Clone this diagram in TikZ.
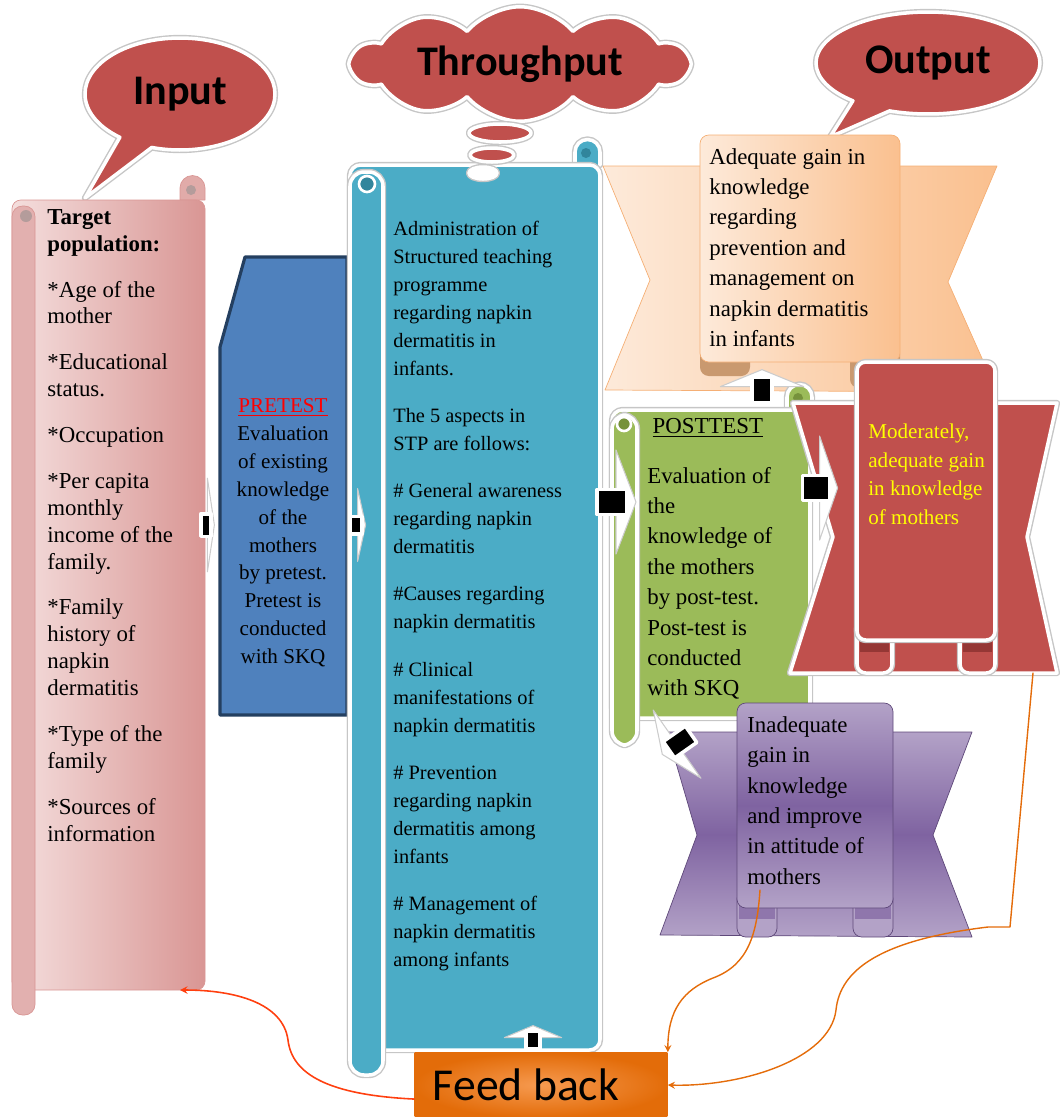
\documentclass[tikz,border=0pt]{standalone}
\usepackage{fontspec}
\setmainfont{Liberation Serif}
\newfontfamily\calib{Carlito}
\usetikzlibrary{shapes.callouts,shapes.symbols}
\definecolor{callred}{HTML}{C0504D}
\definecolor{pinkL}{HTML}{F4DEDD}
\definecolor{pinkD}{HTML}{D99694}
\definecolor{preblue}{HTML}{4F81BD}
\definecolor{navy}{HTML}{243F60}
\definecolor{stpteal}{HTML}{4BACC6}
\definecolor{stptealD}{HTML}{31859C}
\definecolor{peachL}{HTML}{FDEADA}
\definecolor{peachD}{HTML}{FAC08F}
\definecolor{peachE}{HTML}{F5AF75}
\definecolor{peachR}{HTML}{C9996F}
\definecolor{postgreen}{HTML}{9BBB59}
\definecolor{postgreenD}{HTML}{76923C}
\definecolor{redD}{HTML}{953735}
\definecolor{purL}{HTML}{B3A2C7}
\definecolor{purM}{HTML}{7F63A1}
\definecolor{purD}{HTML}{5F497A}
\definecolor{fbor}{HTML}{E36C09}
\definecolor{fborL}{HTML}{F69A50}
\definecolor{linkred}{HTML}{FF3F0F}
\definecolor{linkor}{HTML}{E46C0A}
\definecolor{moyel}{HTML}{FFFF00}
\begin{document}
\begin{tikzpicture}[x=0.02cm, y=-0.02cm, line join=round, line cap=round, >=stealth,
	rim/.style={preaction={draw=gray!45, line width=3.6pt}, draw=white, line width=2pt},
	title/.style={font=\calib\bfseries\fontsize{24}{28}\selectfont},
	callbox/.style={ellipse callout, fill=callred, rim, title, callout pointer arc=22},
	tx/.style={inner sep=0pt, align=left, anchor=north west},
	fbbox/.style={rectangle, inner color=fborL, outer color=fbor, minimum width=5.06cm, minimum height=1.3cm, font=\calib\fontsize{26}{30}\selectfont}]
			\pgfmathsetmacro{\rc}{12.5}
			\useasboundingbox (0,0) rectangle (1060,1117);
			\node[callbox, minimum width=3.8cm, minimum height=2.24cm, callout absolute pointer={(85,198)}] (in) at (180,94) {Input};
			\node[callbox, minimum width=4.48cm, minimum height=2.04cm, callout absolute pointer={(830,137)}] (out) at (928,63) {Output};
			\node[cloud, cloud puffs=10, cloud puff arc=100, aspect=5, fill=callred, rim, title, minimum width=6.7cm, minimum height=1.1cm] (tp) at (520,64) {Throughput};
			\draw[fill=pinkD!80, draw=pinkD] (180,200) -- (180,188) arc[start angle=180, end angle=360, radius=\rc] -- (205,200) -- cycle;
			\fill[pinkD!60!black!60] (191,190) circle (5);
			\draw[draw=pinkD, left color=pinkL, right color=pinkD, rounded corners=5pt] (12,200) rectangle (205,990);
			\draw[draw=pinkD, fill=pinkD!75, rounded corners=6pt] (12,206) rectangle (35,1015);
			\fill[pinkD!60!black!60] (26,216) circle (6);
			\draw[fill=preblue, draw=navy, line width=1.8pt] (245,257) -- (347,257) -- (347,715) -- (220,715) -- (220,347) -- cycle;
			\draw[rim, fill=stpteal] (575,165) -- (575,152) arc[start angle=180, end angle=360, radius=\rc] -- (600,165);
			\fill[stptealD] (586,153) circle (5);
			\draw[rim, fill=stpteal, rounded corners=6pt] (350,165) rectangle (600,1050);
			\draw[rim, fill=stpteal, rounded corners=8pt] (350,172) rectangle (383,1075);
			\draw[draw=white, line width=1.5pt, fill=stptealD] (367,184) circle (8);
			\foreach \x/\y/\rx/\ry/\c in {500/133/31/9/callred, 492/155/22/7/callred, 483/173/14/6/white}
				\draw[rim, fill=\c] (\x,\y) ellipse [x radius=\rx, y radius=\ry];
			\draw[draw=peachE, left color=peachL, right color=peachD] (603,166) -- (650,280) -- (605,390) -- (997,392) -- (948,282) -- (997,166) -- cycle;
			\fill[peachR, rounded corners=5pt] (700,345) rectangle (750,376);
			\fill[peachR, rounded corners=5pt] (850,345) rectangle (900,388);
			\draw[draw=peachE, left color=peachL, right color=peachD, rounded corners=5pt] (700,135) rectangle (900,362);
			\draw[rim, fill=postgreen] (787,410) -- (787,397) arc[start angle=180, end angle=360, radius=\rc] -- (812,410);
			\fill[postgreenD] (798,398) circle (5);
			\draw[rim, fill=postgreen, rounded corners=6pt] (612,410) rectangle (810,718);
			\draw[rim, fill=postgreen, rounded corners=8pt] (612,415) rectangle (637,745);
			\draw[draw=white, line width=1.5pt, fill=postgreenD] (624,424) circle (7);
			\draw[rim, fill=callred] (793,403) -- (833,537) -- (790,673) -- (1057,673) -- (1027,537) -- (1057,403) -- cycle;
			\foreach \x in {857,960}{
				\draw[rim, fill=callred, rounded corners=5pt] (\x,620) rectangle ++(35,53);
				\fill[redD] (\x+3,636) rectangle ++(29,16);
			}
			\draw[rim, fill=callred, rounded corners=5pt] (857,362) rectangle (995,640);
			\draw[draw=purD, top color=purL, bottom color=purL, middle color=purM] (667,732) -- (697,835) -- (660,935) -- (972,937) -- (933,835) -- (972,732) -- cycle;
			\foreach \x in {737,853}{
				\draw[draw=purD, fill=purL, rounded corners=5pt] (\x,890) rectangle ++(40,47);
				\fill[purM!70!purL] (\x+2,905) rectangle ++(36,14);
			}
			\draw[draw=purD, top color=purL, bottom color=purL, middle color=purM, rounded corners=5pt] (737,703) rectangle (893,908);
			\node[tx, font=\fontsize{13}{15.3}\selectfont] (tgt) at (47,209) {\textbf{Target}\\\textbf{population:}\\[10.8pt]
				*Age of the\\mother\\[10.8pt]*Educational\\status.\\[10.8pt]*Occupation\\[10.8pt]
				*Per capita\\monthly\\income of the\\family.\\[10.8pt]*Family\\history of\\napkin\\dermatitis\\[10.8pt]
				*Type of the\\family\\[10.8pt]*Sources of\\information};
			\node[inner sep=0pt, align=center, anchor=north, font=\fontsize{12}{15.9}\selectfont] (pre) at (283,398) {\textcolor{red}{\underline{PRETEST}}\\
				Evaluation\\of existing\\knowledge\\of the\\mothers\\by pretest.\\Pretest is\\conducted\\with SKQ};
			\node[tx, font=\fontsize{11.6}{15.9}\selectfont] (stp) at (393,221) {Administration of\\Structured teaching\\programme\\regarding napkin\\dermatitis in\\infants.\\[11pt]
				The 5 aspects in\\STP are follows:\\[11pt]
				\# General awareness\\regarding napkin\\dermatitis\\[11pt]
				\#Causes regarding\\napkin dermatitis\\[11pt]
				\# Clinical\\manifestations of\\napkin dermatitis\\[11pt]
				\# Prevention\\regarding napkin\\dermatitis among\\infants\\[11pt]
				\# Management of\\napkin dermatitis\\among infants};
			\node[tx, font=\fontsize{13}{17.3}\selectfont] (adq) at (709,148) {Adequate gain in\\knowledge\\regarding\\prevention and\\management on\\napkin dermatitis\\in infants};
			\node[tx, font=\fontsize{13}{17.3}\selectfont] (post) at (647,418) {\hspace*{3pt}\underline{POSTTEST}\\[11pt]
				Evaluation of\\the\\knowledge of\\the mothers\\by post-test.\\Post-test is\\conducted\\with SKQ};
			\node[tx, text=moyel, font=\fontsize{12}{16.2}\selectfont] (mod) at (868,424) {Moderately,\\adequate gain\\in knowledge\\of mothers};
			\node[tx, font=\fontsize{13}{17.3}\selectfont] (inq) at (747,716) {Inadequate\\gain in\\knowledge\\and improve\\in attitude of\\mothers};
			\node[fbbox] (fb) at (541,1085) {Feed back\rule{0.6cm}{0pt}};
			\coordinate (inB) at (180,990);
			\coordinate (inqB) at (760,890);
			\coordinate (modB) at (1033,673);
			\draw[linkred, line width=0.9pt, ->] ([yshift=-8pt]fb.west) .. controls (330,1095) and (292,1075) .. (288,1040) .. controls (283,1003) and (235,990) .. (inB);
			\draw[linkor, line width=0.8pt, ->] (inqB) .. controls (757,935) and (748,965) .. (713,978) .. controls (683,990) and (668,1010) .. (fb.north east);
			\draw[linkor, line width=0.8pt, ->] (modB) -- (1010,927) -- (988,927) .. controls (880,940) and (840,970) .. (836,1010) .. controls (830,1060) and (740,1087) .. (fb.east);
			\foreach \x/\y/\a/\sx/\sy in {206/525/0/0.35/0.9, 356/525/0/0.4/0.7, 612/502/0/1/1, 816/488/0/0.9/1,
				762/390/90/0.85/0.8, 533/1040/90/0.6/0.55, 680/742/215/0.9/0.8}{
				\begin{scope}[shift={(\x,\y)}, rotate=\a, xscale=\sx, yscale=\sy]
					\draw[fill=white, draw=gray!40, line width=0.6pt] (4,-52) -- (24,0) -- (4,52) -- cycle;
					\draw[fill=black, draw=white, line width=2pt] (-15,-12.5) rectangle (15,12.5);
				\end{scope}
			}
\end{tikzpicture}
\end{document}
